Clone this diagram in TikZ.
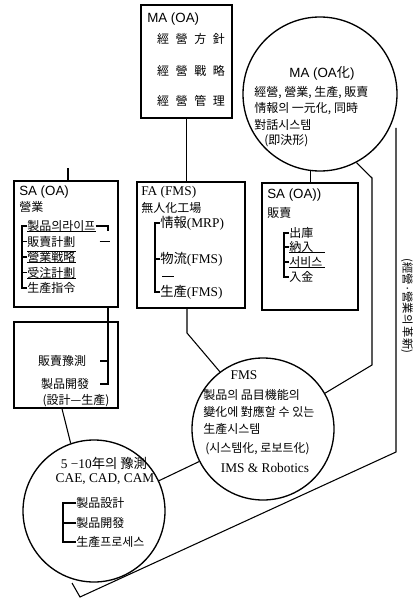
\documentclass[tikz,border=0pt]{standalone}
\usepackage{fontspec}
\setmainfont{Liberation Serif}
\newfontfamily\kr{Noto Sans CJK KR}
\newfontfamily\lsans{Liberation Sans}
\usetikzlibrary{fit,calc}
\newcommand\upx{0.75pt}
\newcommand\K[1]{{\kr #1}}
\begin{document}
\begin{tikzpicture}[x=0.75pt,y=-0.75pt,
  box/.style={draw, line width=1.1pt, inner sep=0pt},
  ring/.style={draw, circle, line width=1.0pt, inner sep=0pt},
  ln/.style={line width=0.8pt},
  thin/.style={line width=0.6pt},
  kt/.style={inner sep=0pt, font=\kr\fontsize{9}{11}\selectfont},
  lt/.style={inner sep=0pt, font=\fontsize{10}{12}\selectfont},
  st/.style={inner sep=0pt, font=\lsans\fontsize{10}{12}\selectfont},
]
\fill[white] (0,0) rectangle (417,599);
\useasboundingbox (0,0) rectangle (417,599);

% ---------- MA box ----------
\node[box, fit={(141,5)(232,118)}] (ma) {};
\node[st, anchor=west] (maT) at (147,19) {MA (OA)};
\node[kt] (ma1) at (191,39) {經\hspace{5pt}營\hspace{5pt}方\hspace{5pt}針};
\node[kt] (ma2) at (191,71) {經\hspace{5pt}營\hspace{5pt}戰\hspace{5pt}略};
\node[kt] (ma3) at (191,101) {經\hspace{5pt}營\hspace{5pt}管\hspace{5pt}理};

% ---------- MA circle ----------
\node[ring, minimum size=154*\upx] (mac) at (320,94) {};
\node[st] (mcT) at (322,73) {MA (OA\K{化})};
\node[kt, anchor=west] (mc1) at (254,93) {經營, 營業, 生產, 販賣};
\node[kt, anchor=west] (mc2) at (254,109) {情報의 一元化, 同時};
\node[kt, anchor=west] (mc3) at (254,125) {對話시스템};
\node[kt, anchor=west] (mc4) at (264,141) {(即決形)};

% ---------- SA (OA) box ----------
\node[box, fit={(14,181)(118,307)}] (sa) {};
\node[st, anchor=west] (saT) at (19,192) {SA (OA)};
\node[kt, anchor=west] (sa0) at (19,207) {營業};
\node[kt, anchor=west] (s1) at (27,226) {製品의라이프};
\node[kt, anchor=west] (s2) at (27,241.5) {販賣計劃};
\node[kt, anchor=west] (s3) at (27,257) {營業戰略};
\node[kt, anchor=west] (s4) at (27,272.5) {受注計劃};
\node[kt, anchor=west] (s5) at (27,288) {生產指令};
\draw[ln] (s1.west) -- ++(-5,0) |- (s5.west);
\foreach \s in {s2,s3,s4} \draw[ln] (\s.west) -- ++(-5,0);
\draw[thin] (s1.south west) -- (s1.south east);
\draw[thin] (s3.north west) -- (s3.north east);
\draw[thin] (s3.south west) -- (s3.south east);
\draw[thin] (s4.south west) -- (s4.south east);
\coordinate (sbx) at (108,0);
\draw[ln] (s1.east) -- (s1.east -| sbx) -- ++(0,5);
\draw[ln] ([xshift=18pt]s2.east) -- ([xshift=26pt]s2.east);

% ---------- FA (FMS) box ----------
\node[box, fit={(137,182)(245,308)}] (fa) {};
\node[lt, anchor=west] (faT) at (141,192) {FA (FMS)};
\node[kt, anchor=west] (fa0) at (141,208) {無人化工場};
\node[lt, anchor=west] (f1) at (160,223) {\K{情報}(MRP)};
\node[lt, anchor=west] (f2) at (160,259) {\K{物流}(FMS)};
\node[lt, anchor=west] (f3) at (160,292) {\K{生產}(FMS)};
\draw[ln] (f1.west) -- ++(-5,0) |- (f3.west);
\draw[ln] (f2.west) -- ++(-5,0);
\draw[ln] ([shift={(2,0)}]f2.south west) ++(0,10) -- ++(12,0);

% ---------- SA (OA)) box ----------
\node[box, fit={(262,183)(358,310)}] (sb) {};
\node[st, anchor=west] (sbT) at (267,195) {SA (OA))};
\node[kt, anchor=west] (sb0) at (267,213) {販賣};
\node[kt, anchor=west] (b1) at (289,233) {出庫};
\node[kt, anchor=west] (b2) at (289,247) {納入};
\node[kt, anchor=west] (b3) at (289,262) {서비스};
\node[kt, anchor=west] (b4) at (289,277) {入金};
\draw[ln] (b1.west) -- ++(-5,0) |- (b4.west);
\foreach \s in {b2,b3} \draw[ln] (\s.west) -- ++(-5,0);
\draw[thin] (b2.south west) -- ++(36,0);
\draw[thin] (b3.south west) -- ++(36,0);

% ---------- lower left box ----------
\node[box, fit={(14,322)(118,408)}] (lb) {};
\node[kt] (l1) at (62,361) {販賣豫測};
\node[kt] (l2) at (65,384) {製品開發};
\node[kt] (l3) at (76,401) {(設計—生產)};
\draw[ln] (sa.south -| sbx) -- (sbx |- l2.east) -- ++(-8,0);
\draw[ln] (sbx |- l1.east) -- ++(-8,0);

% ---------- 5-10 circle ----------
\node[ring, minimum size=142*\upx] (cc) at (94,511) {};
\node[lt] (ccT) at (104,463) {5 −10\K{年의 豫測}};
\node[lt] (ccT2) at (105,479) {CAE, CAD, CAM};
\node[kt, anchor=west] (c1) at (76,503) {製品設計};
\node[kt, anchor=west] (c2) at (76,523) {製品開發};
\node[kt, anchor=west] (c3) at (76,542) {生產프로세스};
\draw[ln] (c1.west) -- ++(-13,0) |- (c3.west);
\draw[ln] (c2.west) -- ++(-13,0);

% ---------- FMS circle ----------
\node[ring, minimum size=142*\upx] (fms) at (263,429) {};
\node[lt] (fmT) at (244,375) {FMS};
\node[kt, anchor=west] (m1) at (203,395) {製品의 品目機能의};
\node[kt, anchor=west] (m2) at (203,412) {變化에 對應할 수 있는};
\node[kt, anchor=west] (m3) at (203,429) {生產시스템};
\node[kt, anchor=west] (m4) at (205,449) {(시스템化, 로보트化)};
\node[lt] (m5) at (265,468) {IMS \& Robotics};

% ---------- vertical text ----------
\node[kt, rotate=-90, font=\kr\fontsize{8.5}{10}\selectfont] (rv) at (407,306) {(經營·營業의 革新)};

% ---------- connectors ----------
\draw[ln] (ma.south) -- (ma.south |- fa.north);
\coordinate (sax) at (68,168);
\draw[ln] (sax) -- (sax |- sa.north);
\draw[ln] (mac.-97) -- (mac.-97 |- sb.north);

\coordinate (fabend) at (187,333);
\draw[ln] (fabend |- fa.south) -- (fabend) -- (fms.127);

\coordinate (r1) at (372,178);
\coordinate (r2) at (372,365);
\draw[ln] (mac.-62) -- (r1) -- (r2) -- (fms.30);

\draw[ln] ([xshift=-3pt]lb.south) -- (cc.109);
\draw[ln] (cc.25) -- (fms.207);

\coordinate (rtop) at (396,128);
\coordinate (rbend) at (396,452);
\coordinate (rend) at (80,597);
\coordinate (rtick) at (72,583);
\draw[ln] (rtop) -- (rbend) -- (rend) -- (rtick);
\end{tikzpicture}
\end{document}
